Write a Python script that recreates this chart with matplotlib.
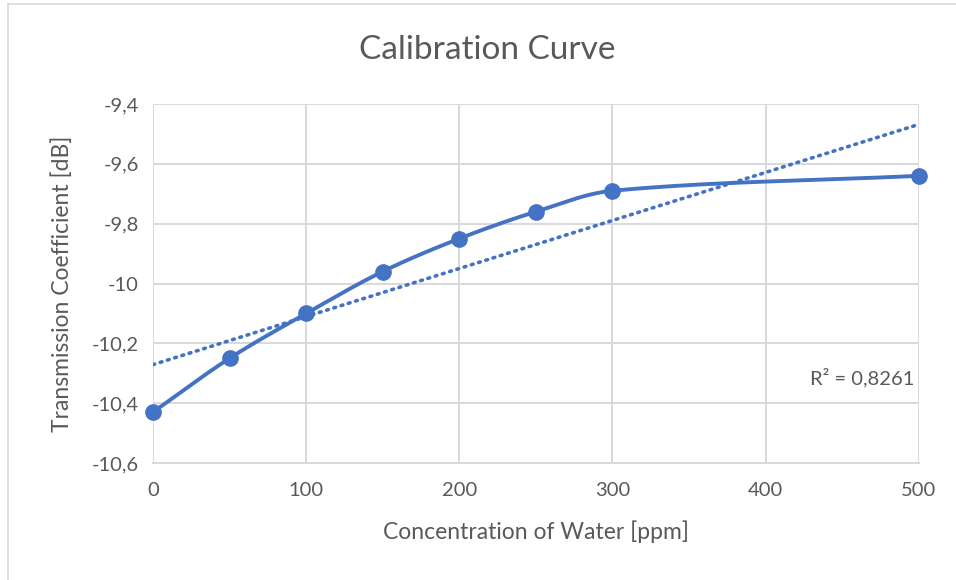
import numpy as np
import matplotlib
matplotlib.use("Agg")
import matplotlib.pyplot as plt
from matplotlib.ticker import FuncFormatter

plt.rcParams['font.family'] = ['Lato', 'DejaVu Sans']

# data
concentration = [0, 50, 100, 150, 200, 250, 300, 500]
transmission = [-10.43, -10.25, -10.10, -9.96, -9.85, -9.76, -9.69, -9.64]
r2_label = "R² = 0,8261"

blue = "#4472C4"
text_col = "#595959"
grid_col = "#D9D9D9"

X_RANGE = (0, 500)
Y_RANGE = (-10.6, -9.4)
AX_POS = [0.160, 0.2017, 0.801, 0.619]


def smooth_curve(xs, ys, sx_scale, sy_scale, n=60):
    # smoothed line like Excel: cubic Bezier, tangents scaled by segment length
    pts = np.column_stack([np.asarray(xs) * sx_scale, np.asarray(ys) * sy_scale]).astype(float)
    out = []
    for i in range(len(pts) - 1):
        p1, p2 = pts[i], pts[i + 1]
        d12 = np.linalg.norm(p2 - p1)
        if i > 0:
            p0 = pts[i - 1]
            d01 = np.linalg.norm(p1 - p0)
            tan1 = (p2 - p0) / (d01 + d12)
        else:
            tan1 = (p2 - p1) / d12
        if i + 2 < len(pts):
            p3 = pts[i + 2]
            d23 = np.linalg.norm(p3 - p2)
            tan2 = (p3 - p1) / (d12 + d23)
        else:
            tan2 = (p2 - p1) / d12
        c1 = p1 + tan1 * d12 / 3.0
        c2 = p2 - tan2 * d12 / 3.0
        t = np.linspace(0, 1, n)[:, None]
        seg = ((1 - t) ** 3) * p1 + 3 * ((1 - t) ** 2) * t * c1 + 3 * (1 - t) * t ** 2 * c2 + t ** 3 * p2
        out.append(seg if i == 0 else seg[1:])
    out = np.vstack(out)
    return out[:, 0] / sx_scale, out[:, 1] / sy_scale


fig = plt.figure(figsize=(9.56, 5.8), dpi=100)
ax = fig.add_axes(AX_POS)

# outer chart border (left + top visible)
fig.add_artist(plt.Line2D([8 / 956, 8 / 956], [0, 1 - 4 / 580], color=grid_col, lw=1.2))
fig.add_artist(plt.Line2D([8 / 956, 1], [1 - 4 / 580, 1 - 4 / 580], color=grid_col, lw=1.2))

x = np.array(concentration, dtype=float)
y = np.array(transmission)

px_x = AX_POS[2] * 956 / (X_RANGE[1] - X_RANGE[0])
px_y = AX_POS[3] * 580 / (Y_RANGE[1] - Y_RANGE[0])
sx, sy = smooth_curve(x, y, px_x, px_y)
ax.plot(sx, sy, color=blue, lw=2.8, solid_capstyle='round', zorder=3)
ax.plot(x, y, 'o', color=blue, ms=11, zorder=4, clip_on=False)

# linear trendline
k, b = np.polyfit(x, y, 1)
tx = np.array(X_RANGE, dtype=float)
ax.plot(tx, k * tx + b, color=blue, lw=2.6, linestyle=(0, (0.5, 1.6)),
        dash_capstyle='round', zorder=2)

ax.text(497, -10.313, r2_label, color=text_col, fontsize=14.5, ha='right', va='center')

ax.set_xlim(*X_RANGE)
ax.set_ylim(*Y_RANGE)
ax.set_xticks([0, 100, 200, 300, 400, 500])
ax.set_yticks(np.arange(-10.6, -9.39, 0.2))


def fmt(v, p):
    s = f"{v:.1f}"
    if s.endswith(".0"):
        s = s[:-2]
    return s.replace('.', ',')


ax.yaxis.set_major_formatter(FuncFormatter(fmt))

ax.grid(True, color=grid_col, lw=1.4)
ax.set_axisbelow(True)
for s in ['top', 'right', 'left']:
    ax.spines[s].set_visible(False)
ax.spines['bottom'].set_color(grid_col)
ax.spines['bottom'].set_linewidth(1.4)
ax.tick_params(length=0, colors=text_col, labelsize=14.5)
ax.tick_params(axis='x', pad=14)
ax.tick_params(axis='y', pad=10)

fig.text(487 / 956, 1 - 50 / 580, "Calibration Curve", fontsize=24, color=text_col,
         ha='center', va='center')
ax.set_xlabel("Concentration of Water [ppm]", fontsize=16.5, color=text_col, labelpad=15)
ax.set_ylabel("Transmission Coefficient [dB]", fontsize=16.5, color=text_col, labelpad=14)

fig.savefig("out.png", dpi=100)
